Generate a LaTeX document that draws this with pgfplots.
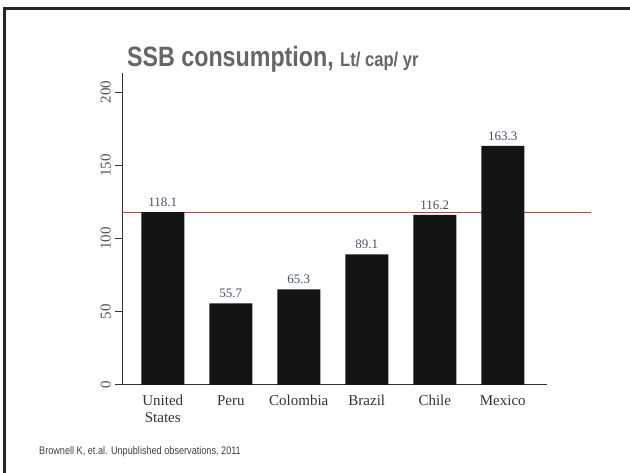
\documentclass[border=0pt]{standalone}
\usepackage{pgfplots}
\pgfplotsset{compat=1.18}
\usepackage{graphicx}
\usepackage{fontspec}
\setmainfont{Liberation Serif}
\newfontfamily\arial{Liberation Sans}
\definecolor{titlegray}{HTML}{666666}
\definecolor{labgray}{HTML}{333333}
\definecolor{tickgray}{HTML}{555555}
\definecolor{valblue}{HTML}{4A5068}
\definecolor{refred}{HTML}{D23A3A}

\begin{document}
\begin{tikzpicture}
\useasboundingbox (0,0) rectangle (630pt,473pt);
\fill[white] (0,0) rectangle (630pt,473pt);
% slide frame (left and top edges visible)
\draw[line width=3pt, black!85] (4.5pt,-2pt) -- (4.5pt,464.5pt) -- (632pt,464.5pt);

\begin{axis}[
    at={(122pt,88pt)}, anchor=south west,
    scale only axis, width=425pt, height=312pt,
    xmin=-0.6, xmax=5.65, ymin=0, ymax=213,
    clip=false,
    axis x line=bottom, axis y line=left,
    axis line style={-, line width=1pt, black!80},
    x axis line style={shorten <=-7pt},
    xtick={0,...,5},
    xticklabels={{United\\States},Peru,Colombia,Brazil,Chile,Mexico},
    xticklabel style={align=center, font=\fontsize{15}{17}\selectfont, text=labgray},
    major x tick style={draw=none},
    ytick={0,50,...,200},
    yticklabel style={rotate=90, anchor=south, inner sep=4pt,
        font=\fontsize{15}{17}\selectfont, text=tickgray},
    tick align=outside, major tick length=7pt,
    major y tick style={line width=1pt, black!80},
    /pgf/number format/assume math mode=true,
]
% reference line
\addplot[refred, line width=0.9pt] coordinates {(-0.6,118.1) (6.29,118.1)};
% bars
\addplot[ybar, bar width=43pt, bar shift=0pt, fill=black!92, draw=none,
    nodes near coords,
    nodes near coords style={font=\fontsize{13}{15}\selectfont, text=valblue, yshift=2pt,
        /pgf/number format/fixed, /pgf/number format/precision=1,
        /pgf/number format/fixed zerofill}]
    coordinates {(0,118.1) (1,55.7) (2,65.3) (3,89.1) (4,116.2) (5,163.3)};
\end{axis}

\node[anchor=base west, inner sep=0pt, text=titlegray] at (127pt,406pt)
    {\scalebox{0.83}[1]{\arial\bfseries\fontsize{28}{30}\selectfont SSB consumption, {\fontsize{20}{22}\selectfont Lt/ cap/ yr}}};
\node[anchor=base west, inner sep=0pt, text=black!75] at (39pt,18pt)
    {\scalebox{0.83}[1]{\arial\fontsize{11}{13}\selectfont Brownell K, et.al. Unpublished observations, 2011}};
\end{tikzpicture}
\end{document}
